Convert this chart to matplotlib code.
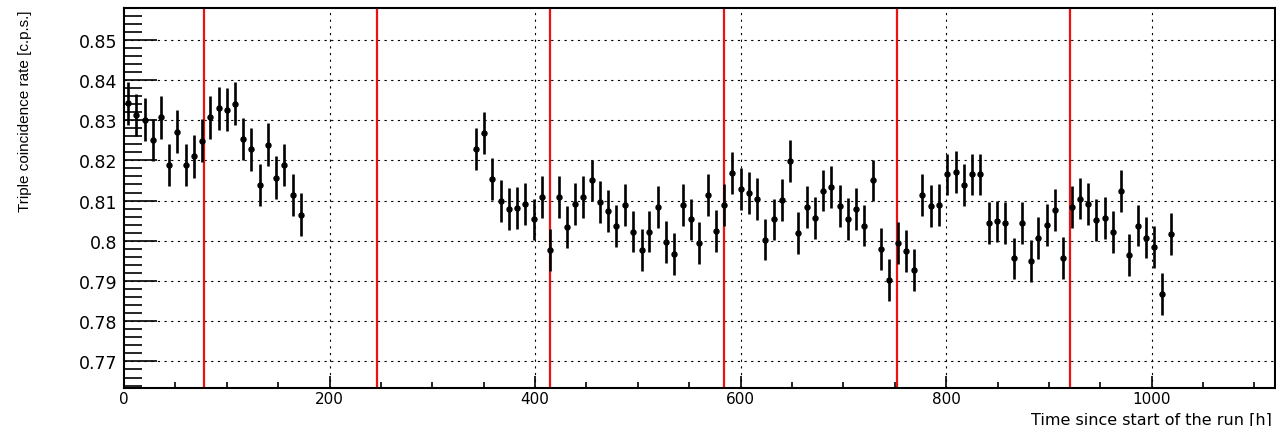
#!/usr/bin/env python3
"""Triple coincidence rate vs. time since start of the run (ROOT-style look)."""

import matplotlib

matplotlib.use("Agg")
import matplotlib.pyplot as plt
from matplotlib.ticker import MultipleLocator, FuncFormatter

# --- data ---
time_a = [4, 12, 20, 28, 36, 44, 52, 60, 68, 76, 84, 92, 100, 108, 116, 124,
          132, 140, 148, 156, 164, 172]
rate_a = [0.8342, 0.8313, 0.8301, 0.8251, 0.8307, 0.8188, 0.8271, 0.8188,
          0.8210, 0.8249, 0.8307, 0.8329, 0.8326, 0.8341, 0.8253, 0.8227,
          0.8139, 0.8239, 0.8157, 0.8188, 0.8114, 0.8065]
err_a = 0.0053

time_b = [342.3, 350.4, 358.4, 366.6, 374.7, 382.5, 390.6, 398.7, 406.8, 414.9,
          423.1, 431.1, 439.2, 447.0, 455.2, 463.3, 471.3, 479.1, 487.3, 495.4,
          503.6, 511.2, 519.4, 527.5, 535.6, 543.7, 551.8, 559.9, 568.1, 576.2,
          584.2, 592.0, 600.2, 608.0, 616.1, 624.1, 632.3, 640.4, 648.5, 656.2,
          664.4, 672.5, 680.3, 688.4, 696.5, 704.6, 712.7, 720.5, 728.7, 736.7,
          744.8, 753.0, 760.7, 768.9, 776.9, 785.1, 793.2, 801.3, 809.4, 817.5,
          825.3, 833.4, 841.6, 849.6, 857.7, 865.9, 873.9, 882.1, 889.8, 898.0,
          906.1, 914.2, 922.3, 930.4, 938.2, 946.3, 954.5, 962.2, 970.3, 978.4,
          986.6, 994.6, 1002.1, 1010.5, 1018.7]
rate_b = [0.8228, 0.8267, 0.8154, 0.8098, 0.8079, 0.8082, 0.8091, 0.8053, 0.8108, 0.7978,
          0.8108, 0.8034, 0.8092, 0.8108, 0.8150, 0.8096, 0.8075, 0.8036, 0.8090, 0.8023,
          0.7978, 0.8023, 0.8085, 0.7996, 0.7967, 0.8089, 0.8053, 0.7994, 0.8113, 0.8025,
          0.8088, 0.8168, 0.8128, 0.8118, 0.8103, 0.8003, 0.8053, 0.8101, 0.8199, 0.8019,
          0.8083, 0.8056, 0.8125, 0.8134, 0.8087, 0.8054, 0.8079, 0.8038, 0.8150, 0.7980,
          0.7903, 0.7994, 0.7974, 0.7927, 0.8114, 0.8086, 0.8089, 0.8165, 0.8170, 0.8138,
          0.8165, 0.8165, 0.8044, 0.8048, 0.8044, 0.7956, 0.8045, 0.7949, 0.8007, 0.8040,
          0.8076, 0.7958, 0.8083, 0.8105, 0.8092, 0.8052, 0.8056, 0.8021, 0.8123, 0.7965,
          0.8038, 0.8008, 0.7984, 0.7867, 0.8017]
err_b = 0.0052

# weekly markers (red vertical lines)
week_marks = [78, 246.5, 415, 583.5, 752, 920.5]

x_range = (0, 1120)
y_range = (0.7634, 0.8578)

FONT = "DejaVu Sans"


def root_label(v, _pos):
    return f"{v:.2f}".rstrip("0").rstrip(".")


def main() -> None:
    fig = plt.figure(figsize=(12.76, 4.27), dpi=100)
    ax = fig.add_axes([0.0972, 0.0890, 0.9020, 0.8892])

    ax.set_xlim(*x_range)
    ax.set_ylim(*y_range)

    grid_style = dict(color="black", lw=0.8, ls=(0, (2, 4)), zorder=1)
    for gx in range(200, 1120, 200):
        ax.axvline(gx, **grid_style)
    for gy in [0.77, 0.78, 0.79, 0.80, 0.81, 0.82, 0.83, 0.84, 0.85]:
        ax.axhline(gy, **grid_style)

    for wx in week_marks:
        ax.axvline(wx, color="#ee1111", lw=1.6, zorder=2)

    for t, r, e in [(time_a, rate_a, err_a), (time_b, rate_b, err_b)]:
        ax.errorbar(t, r, yerr=e, fmt="o", color="black", ms=3.6,
                    elinewidth=1.9, capsize=0, zorder=3)

    ax.xaxis.set_major_locator(MultipleLocator(200))
    ax.xaxis.set_minor_locator(MultipleLocator(50))
    ax.yaxis.set_major_locator(MultipleLocator(0.01))
    ax.yaxis.set_minor_locator(MultipleLocator(0.002))
    ax.yaxis.set_major_formatter(FuncFormatter(root_label))

    ax.tick_params(axis="x", which="major", direction="in", length=9, width=1.2,
                   pad=2, labelsize=11, top=False)
    ax.tick_params(axis="x", which="minor", direction="in", length=4.5, width=1.2,
                   top=False)
    ax.tick_params(axis="y", which="major", direction="in", length=24, width=1.2,
                   pad=5, labelsize=12.5, right=False)
    ax.tick_params(axis="y", which="minor", direction="in", length=13, width=1.2,
                   right=False)
    for lab in ax.get_xticklabels() + ax.get_yticklabels():
        lab.set_family(FONT)

    for sp in ax.spines.values():
        sp.set_linewidth(1.5)

    fig.text(0.9965, -0.003, "Time since start of the run [h]", ha="right",
             va="bottom", fontsize=11.5, family=FONT)
    fig.text(0.0195, 0.74, "Triple coincidence rate [c.p.s.]", rotation=90,
             ha="center", va="center", fontsize=11,
             family=["Liberation Sans Narrow", "Liberation Sans", "DejaVu Sans"])

    fig.savefig("out.png", dpi=100)
    plt.close(fig)


if __name__ == "__main__":
    main()
